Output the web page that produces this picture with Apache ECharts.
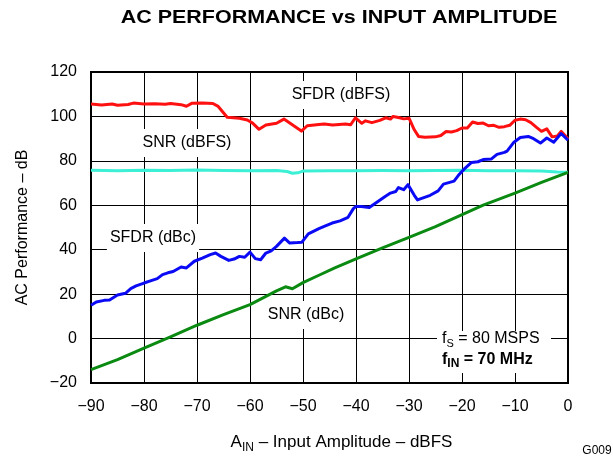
<!DOCTYPE html>
<html>
<head>
<meta charset="utf-8">
<script src="https://cdn.jsdelivr.net/npm/echarts@6/dist/echarts.min.js"></script>
<style>
  html, body { margin: 0; padding: 0; background: #fff; }
  #chart { width: 613px; height: 459px; }
</style>
</head>
<body>
<div id="chart"></div>
<script>
// Input amplitude (dBFS) and measured performance (dB) for each curve
const sfdrDbfsX = [-90, -88, -86, -85, -83, -82, -80, -78, -76, -75, -73, -72, -71, -69, -67, -66, -64.3, -62, -60.5, -59.5, -58.3, -57, -55, -53.6, -52.5, -50.3, -49.2, -47, -46, -44.4, -42, -41, -40.1, -38.9, -38.2, -37, -35.5, -34.4, -33.5, -33, -32, -31, -30, -29, -28.2, -27, -25, -24, -23, -22, -21, -20, -19, -18, -17, -16, -15, -14, -13, -12, -11, -10, -9, -8, -7, -6, -5, -4, -3, -2, -1.3, -0.6, 0];
const sfdrDbfsY = [105.6, 105.1, 105.6, 105.0, 105.4, 106.0, 105.6, 105.7, 105.5, 105.8, 105.3, 104.6, 105.9, 106.0, 105.8, 104.5, 99.6, 99.2, 98.4, 97.0, 94.2, 96.1, 96.9, 98.8, 97.0, 93.4, 95.8, 96.4, 96.6, 96.1, 96.6, 96.3, 99.4, 96.9, 98.0, 97.2, 98.2, 99.4, 98.8, 100.0, 99.5, 98.9, 99.2, 94.0, 91.0, 90.6, 90.8, 91.4, 93.2, 93.0, 93.6, 94.8, 94.8, 97.5, 96.8, 97.0, 95.8, 96.0, 95.1, 95.4, 96.0, 98.3, 98.8, 98.5, 97.2, 95.2, 93.3, 94.4, 90.8, 91.2, 93.3, 91.5, 89.8];

const snrDbfsX = [-90, -85, -80, -75, -70, -65, -60, -55, -53, -52, -51, -50, -45, -40, -35, -30, -25, -20, -15, -10, -5, -2, 0];
const snrDbfsY = [75.8, 75.6, 75.8, 75.7, 75.9, 75.7, 75.6, 75.7, 75.2, 74.4, 74.6, 75.4, 75.6, 75.6, 75.7, 75.6, 75.7, 75.8, 75.6, 75.6, 75.4, 75.0, 74.9];

const sfdrDbcX = [-90, -89, -87.5, -86.5, -85, -83.5, -82.5, -81.5, -80, -78.5, -77.5, -76.5, -75.5, -74.5, -73, -72, -70.5, -69, -67.5, -66.5, -65.5, -64, -63, -62, -61, -60, -59, -58, -57, -56, -55, -53.5, -52.5, -51, -50.2, -49, -47, -46, -44.5, -43, -41.5, -40.5, -40, -39, -37.5, -36, -34.5, -33.5, -32.5, -32, -31, -30.2, -29, -28.4, -26, -24.5, -23.5, -21.5, -20.5, -19.5, -18.2, -17, -16, -14.5, -13.4, -12, -11.5, -10.2, -9, -7.5, -6.5, -5.2, -4, -2.7, -1.3, 0];
const sfdrDbcY = [15.0, 16.5, 17.2, 17.4, 19.6, 20.4, 22.5, 23.7, 25.0, 26.2, 27.0, 28.8, 29.6, 30.2, 32.2, 31.8, 34.8, 36.2, 37.8, 38.5, 37.0, 35.2, 35.8, 37.0, 36.6, 38.9, 36.0, 35.5, 38.5, 39.5, 41.5, 45.2, 43.0, 43.2, 43.4, 47.1, 49.5, 50.5, 52.0, 53.0, 54.6, 58.5, 59.5, 59.5, 59.0, 61.5, 64.0, 65.5, 66.2, 68.0, 67.0, 69.3, 64.5, 62.4, 64.5, 66.5, 69.5, 70.9, 74.0, 76.5, 79.3, 79.6, 80.6, 80.8, 82.9, 83.8, 84.4, 88.4, 90.5, 91.0, 90.0, 88.0, 90.3, 88.4, 92.3, 89.3];

const snrDbcX = [-90, -85, -80, -75, -70, -65, -60, -57, -55, -53.3, -52, -50, -47, -44, -40, -35, -30, -25, -20.4, -16, -10, -5, 0];
const snrDbcY = [-14.0, -9.5, -4.3, 0.8, 6.0, 10.8, 15.3, 19.0, 21.5, 23.3, 22.4, 25.2, 28.5, 31.8, 35.9, 40.8, 45.6, 50.4, 55.3, 60.1, 65.5, 70.3, 74.8];

const seriesNames = ['SFDR (dBFS)', 'SNR (dBFS)', 'SFDR (dBc)', 'SNR (dBc)'];

const FONT = '"Liberation Sans", Arial, Helvetica, sans-serif';
const pairs = (xs, ys) => xs.map((x, i) => [x, ys[i]]);
const minusSign = v => String(v).replace('-', '\u2212');

function curve(name, color, data) {
  return {
    name: name,
    type: 'line',
    data: data,
    showSymbol: false,
    symbol: 'none',
    lineStyle: { color: color, width: 3, join: 'round' },
    itemStyle: { color: color },
    z: 3
  };
}

// Curve caption on a white box that masks the grid behind it
function tag(text, x, y) {
  return {
    type: 'text', x: x, y: y, z: 1,
    style: {
      text: text, fill: '#000', font: '16px ' + FONT,
      align: 'center', verticalAlign: 'middle',
      backgroundColor: '#fff', padding: [6, 3]
    }
  };
}

const chart = echarts.init(document.getElementById('chart'), null, { renderer: 'canvas' });

chart.setOption({
  animation: false,
  grid: { left: 91, right: 45, top: 72, bottom: 75, show: true, borderColor: '#000', borderWidth: 2, backgroundColor: 'transparent' },
  xAxis: {
    type: 'value', min: -90, max: 0, interval: 10,
    axisLine: { show: true, onZero: false, lineStyle: { color: '#000', width: 2 } },
    axisTick: { show: false },
    splitLine: { show: true, lineStyle: { color: '#000', width: 1 } },
    axisLabel: { color: '#000', fontSize: 16, fontFamily: FONT, margin: 16, formatter: minusSign },
    name: '{a|A}{s|IN}{a| \u2013 Input Amplitude \u2013 dBFS}',
    nameLocation: 'middle', nameGap: 47,
    nameTextStyle: {
      padding: [0, 0, 0, 24],
      rich: {
        a: { fontSize: 17, fontFamily: FONT, color: '#000', lineHeight: 24 },
        s: { fontSize: 12, fontFamily: FONT, color: '#000', lineHeight: 12, verticalAlign: 'bottom' }
      }
    }
  },
  yAxis: {
    type: 'value', min: -20, max: 120, interval: 20,
    axisLine: { show: true, onZero: false, lineStyle: { color: '#000', width: 2 } },
    axisTick: { show: false },
    splitLine: { show: true, lineStyle: { color: '#000', width: 1 } },
    axisLabel: { color: '#000', fontSize: 16, fontFamily: FONT, margin: 14, formatter: minusSign },
    name: 'AC Performance \u2013 dB',
    nameLocation: 'middle', nameGap: 60,
    nameTextStyle: { color: '#000', fontSize: 16, fontFamily: FONT }
  },
  series: [
    curve(seriesNames[0], '#ff1010', pairs(sfdrDbfsX, sfdrDbfsY)),
    curve(seriesNames[1], '#3cf0d6', pairs(snrDbfsX, snrDbfsY)),
    curve(seriesNames[2], '#0a0af5', pairs(sfdrDbcX, sfdrDbcY)),
    curve(seriesNames[3], '#0b8a12', pairs(snrDbcX, snrDbcY))
  ],
  graphic: { elements: [
    {
      type: 'text', x: 339, y: 18, z: 1, scaleX: 1.13,
      style: { text: 'AC PERFORMANCE vs INPUT AMPLITUDE', fill: '#000', font: 'bold 19px ' + FONT, align: 'center', verticalAlign: 'middle' }
    },
    tag(seriesNames[0], 341, 95),
    tag(seriesNames[1], 187, 143),
    tag(seriesNames[2], 153, 238),
    tag(seriesNames[3], 306, 315),
    { type: 'rect', z: 1, shape: { x: 437, y: 331, width: 114, height: 42 }, style: { fill: '#fff' } },
    {
      type: 'text', x: 442, y: 328, z: 1,
      style: {
        text: '{a|f}{s|S}{a| = 80 MSPS}\n{b|f}{bs|IN}{b| = 70 MHz}',
        align: 'left', verticalAlign: 'top',
        rich: {
          a: { fontSize: 16, fontFamily: FONT, fill: '#000', lineHeight: 21 },
          s: { fontSize: 11, fontFamily: FONT, fill: '#000', lineHeight: 10, verticalAlign: 'bottom' },
          b: { fontSize: 16, fontFamily: FONT, fontWeight: 'bold', fill: '#000', lineHeight: 21 },
          bs: { fontSize: 12, fontFamily: FONT, fontWeight: 'bold', fill: '#000', lineHeight: 10, verticalAlign: 'bottom' }
        }
      }
    },
    {
      type: 'text', x: 597, y: 451, z: 1,
      style: { text: 'G009', fill: '#000', font: '12px ' + FONT, align: 'center', verticalAlign: 'middle' }
    }
  ] }
});
</script>
</body>
</html>
